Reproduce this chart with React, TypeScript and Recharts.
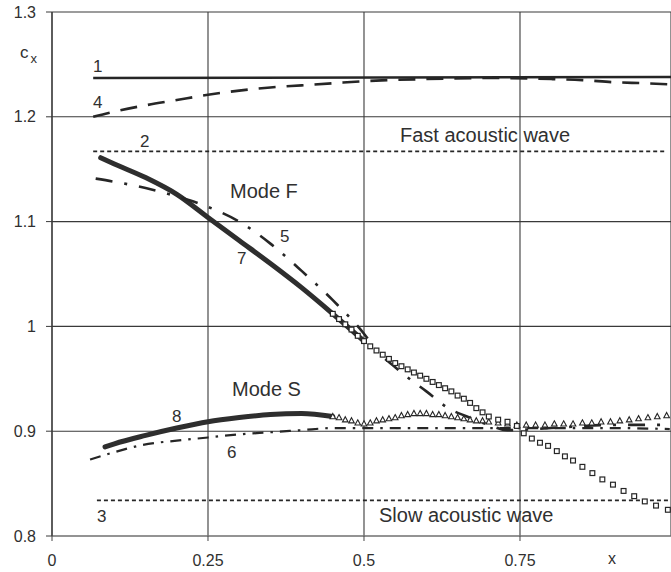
import React from 'react';
import { LineChart, Line, XAxis, YAxis, CartesianGrid, ReferenceDot } from 'recharts';

// ---------- axis ticks ----------
const xTicks = [0, 0.25, 0.5, 0.75];
const yTicks = [0.8, 0.9, 1, 1.1, 1.2, 1.3];

// ---------- series (x, c_x) ----------
const line1 = [
  { x: 0.066, y: 1.237 },
  { x: 0.992, y: 1.238 },
];

const line4 = [
  { x: 0.066, y: 1.2 },
  { x: 0.1, y: 1.205 },
  { x: 0.15, y: 1.211 },
  { x: 0.2, y: 1.216 },
  { x: 0.25, y: 1.221 },
  { x: 0.3, y: 1.225 },
  { x: 0.35, y: 1.228 },
  { x: 0.4, y: 1.23 },
  { x: 0.45, y: 1.232 },
  { x: 0.5, y: 1.234 },
  { x: 0.6, y: 1.236 },
  { x: 0.7, y: 1.237 },
  { x: 0.8, y: 1.236 },
  { x: 0.85, y: 1.235 },
  { x: 0.9, y: 1.233 },
  { x: 0.95, y: 1.232 },
  { x: 0.99, y: 1.231 },
];

const fastWave = [
  { x: 0.066, y: 1.167 },
  { x: 0.985, y: 1.167 },
];

const slowWave = [
  { x: 0.072, y: 0.834 },
  { x: 0.988, y: 0.834 },
];

const curve5 = [
  { x: 0.07, y: 1.141 },
  { x: 0.1, y: 1.138 },
  { x: 0.15, y: 1.132 },
  { x: 0.2, y: 1.124 },
  { x: 0.25, y: 1.114 },
  { x: 0.3, y: 1.1 },
  { x: 0.35, y: 1.079 },
  { x: 0.4, y: 1.053 },
  { x: 0.45, y: 1.025 },
  { x: 0.5, y: 0.993 },
  { x: 0.52, y: 0.977 },
  { x: 0.55, y: 0.961 },
  { x: 0.575, y: 0.949 },
  { x: 0.6, y: 0.938 },
  { x: 0.635, y: 0.922 },
  { x: 0.665, y: 0.914 },
  { x: 0.7, y: 0.906 },
  { x: 0.73, y: 0.901 },
  { x: 0.8, y: 0.903 },
  { x: 0.9, y: 0.906 },
  { x: 0.99, y: 0.906 },
];

const curve6 = [
  { x: 0.061, y: 0.873 },
  { x: 0.1, y: 0.88 },
  { x: 0.146, y: 0.887 },
  { x: 0.2, y: 0.891 },
  { x: 0.25, y: 0.894 },
  { x: 0.3, y: 0.897 },
  { x: 0.35, y: 0.899 },
  { x: 0.4, y: 0.901 },
  { x: 0.45, y: 0.903 },
  { x: 0.5, y: 0.903 },
  { x: 0.6, y: 0.903 },
  { x: 0.7, y: 0.903 },
  { x: 0.8, y: 0.903 },
  { x: 0.9, y: 0.903 },
  { x: 0.99, y: 0.902 },
];

// Mode F, numerical points (7): dense part drawn as a band, sparse part as squares
const curve7Band = [
  { x: 0.078, y: 1.161 },
  { x: 0.1, y: 1.155 },
  { x: 0.15, y: 1.142 },
  { x: 0.2, y: 1.126 },
  { x: 0.25, y: 1.104 },
  { x: 0.3, y: 1.082 },
  { x: 0.35, y: 1.06 },
  { x: 0.4, y: 1.037 },
  { x: 0.45, y: 1.012 },
  { x: 0.5, y: 0.986 },
];

const curve7Marks = [
  { x: 0.45, y: 1.012 }, { x: 0.46, y: 1.007 }, { x: 0.47, y: 1.002 },
  { x: 0.48, y: 0.997 }, { x: 0.49, y: 0.991 }, { x: 0.5, y: 0.986 },
  { x: 0.51, y: 0.981 }, { x: 0.52, y: 0.977 }, { x: 0.53, y: 0.973 },
  { x: 0.54, y: 0.969 }, { x: 0.55, y: 0.965 }, { x: 0.56, y: 0.962 },
  { x: 0.57, y: 0.959 }, { x: 0.58, y: 0.956 }, { x: 0.59, y: 0.953 },
  { x: 0.6, y: 0.95 }, { x: 0.61, y: 0.947 }, { x: 0.62, y: 0.944 },
  { x: 0.63, y: 0.941 }, { x: 0.64, y: 0.938 }, { x: 0.65, y: 0.934 },
  { x: 0.66, y: 0.931 }, { x: 0.67, y: 0.927 }, { x: 0.68, y: 0.922 },
  { x: 0.69, y: 0.918 }, { x: 0.7, y: 0.914 }, { x: 0.715, y: 0.911 },
  { x: 0.73, y: 0.909 }, { x: 0.745, y: 0.905 }, { x: 0.756, y: 0.898 },
  { x: 0.769, y: 0.893 }, { x: 0.782, y: 0.889 }, { x: 0.795, y: 0.886 },
  { x: 0.809, y: 0.881 }, { x: 0.822, y: 0.876 }, { x: 0.835, y: 0.872 },
  { x: 0.85, y: 0.866 }, { x: 0.866, y: 0.86 }, { x: 0.882, y: 0.854 },
  { x: 0.899, y: 0.849 }, { x: 0.916, y: 0.843 }, { x: 0.933, y: 0.838 },
  { x: 0.95, y: 0.833 }, { x: 0.968, y: 0.829 }, { x: 0.987, y: 0.825 },
];

// Mode S, numerical points (8)
const curve8Band = [
  { x: 0.085, y: 0.885 },
  { x: 0.1, y: 0.888 },
  { x: 0.15, y: 0.896 },
  { x: 0.2, y: 0.903 },
  { x: 0.25, y: 0.909 },
  { x: 0.3, y: 0.913 },
  { x: 0.35, y: 0.916 },
  { x: 0.4, y: 0.917 },
  { x: 0.45, y: 0.914 },
];

const curve8Marks = [
  { x: 0.45, y: 0.914 }, { x: 0.46, y: 0.913 }, { x: 0.47, y: 0.911 },
  { x: 0.48, y: 0.91 }, { x: 0.49, y: 0.908 }, { x: 0.5, y: 0.907 },
  { x: 0.51, y: 0.908 }, { x: 0.52, y: 0.91 }, { x: 0.53, y: 0.911 },
  { x: 0.54, y: 0.912 }, { x: 0.55, y: 0.913 }, { x: 0.56, y: 0.915 },
  { x: 0.57, y: 0.916 }, { x: 0.58, y: 0.917 }, { x: 0.59, y: 0.917 },
  { x: 0.6, y: 0.917 }, { x: 0.61, y: 0.916 }, { x: 0.62, y: 0.916 },
  { x: 0.63, y: 0.915 }, { x: 0.64, y: 0.914 }, { x: 0.65, y: 0.913 },
  { x: 0.66, y: 0.912 }, { x: 0.67, y: 0.911 }, { x: 0.68, y: 0.91 },
  { x: 0.69, y: 0.91 }, { x: 0.7, y: 0.909 }, { x: 0.715, y: 0.908 },
  { x: 0.73, y: 0.907 }, { x: 0.745, y: 0.906 }, { x: 0.76, y: 0.906 },
  { x: 0.775, y: 0.906 }, { x: 0.79, y: 0.906 }, { x: 0.805, y: 0.907 },
  { x: 0.82, y: 0.907 }, { x: 0.835, y: 0.907 }, { x: 0.85, y: 0.908 },
  { x: 0.865, y: 0.908 }, { x: 0.88, y: 0.909 }, { x: 0.895, y: 0.909 },
  { x: 0.91, y: 0.91 }, { x: 0.925, y: 0.911 }, { x: 0.94, y: 0.912 },
  { x: 0.955, y: 0.913 }, { x: 0.97, y: 0.914 }, { x: 0.985, y: 0.915 },
];

// ---------- text annotations (data coordinates, baseline-left) ----------
const annotations = [
  { x: 0.0657, y: 1.2427, text: '1', size: 17 },
  { x: 0.0657, y: 1.2084, text: '4', size: 17 },
  { x: 0.141, y: 1.1712, text: '2', size: 17 },
  { x: 0.5577, y: 1.176, text: 'Fast acoustic wave', size: 20 },
  { x: 0.2853, y: 1.1225, text: 'Mode F', size: 20 },
  { x: 0.3654, y: 1.0805, text: '5', size: 17 },
  { x: 0.2965, y: 1.0595, text: '7', size: 17 },
  { x: 0.2885, y: 0.9336, text: 'Mode S', size: 20 },
  { x: 0.1923, y: 0.9088, text: '8', size: 17 },
  { x: 0.2804, y: 0.8744, text: '6', size: 17 },
  { x: 0.0721, y: 0.8134, text: '3', size: 17 },
  { x: 0.524, y: 0.8134, text: 'Slow acoustic wave', size: 20 },
  { x: 0.891, y: 0.7733, text: 'x', size: 16 },
];

const FONT = '"Liberation Sans", Arial, Helvetica, sans-serif';
const INK = '#262626';
const TEXT = '#303030';

const SquareDot = (p: any) => {
  const { cx, cy, index } = p;
  if (cx == null || cy == null) return <g key={`sq${index}`} />;
  return (
    <rect
      key={`sq${index}`}
      x={cx - 2.4}
      y={cy - 2.4}
      width={4.8}
      height={4.8}
      fill="#ffffff"
      stroke={INK}
      strokeWidth={1.2}
    />
  );
};

const TriDot = (p: any) => {
  const { cx, cy, index } = p;
  if (cx == null || cy == null) return <g key={`tr${index}`} />;
  return (
    <path
      key={`tr${index}`}
      d={`M${cx},${cy - 3} L${cx + 2.8},${cy + 2.2} L${cx - 2.8},${cy + 2.2} Z`}
      fill="#ffffff"
      stroke={INK}
      strokeWidth={1.1}
    />
  );
};

const makeLabel = (text: string, size: number) => (props: any) => {
  const vb = props.viewBox || {};
  return (
    <text x={vb.x} y={vb.y} fontSize={size} fontFamily={FONT} fill={TEXT} textAnchor="start">
      {text}
    </text>
  );
};

const CxLabel = (props: any) => {
  const vb = props.viewBox || {};
  return (
    <text x={vb.x} y={vb.y} fontFamily={FONT} fill={TEXT} textAnchor="start">
      <tspan fontSize={17}>c</tspan>
      <tspan fontSize={13} dx={2} dy={5}>x</tspan>
    </text>
  );
};

export default function App() {
  return (
    <div style={{ width: 671, height: 572, background: '#ffffff' }}>
      <style>{'html,body{margin:0;padding:0;overflow:hidden;background:#fff}'}</style>
      <LineChart
        width={671}
        height={572}
        margin={{ top: 12, right: 0, left: 0, bottom: 0 }}
        style={{ fontFamily: FONT }}
      >
        <CartesianGrid stroke="#3a3a3a" strokeWidth={1.1} horizontal vertical />
        <XAxis
          type="number"
          dataKey="x"
          domain={[0, 0.992]}
          ticks={xTicks}
          allowDataOverflow
          height={36}
          tickSize={5}
          tickMargin={14}
          axisLine={{ stroke: '#8a8a8a', strokeWidth: 1.2 }}
          tickLine={{ stroke: '#444' }}
          tick={{ fontSize: 16, fill: TEXT, fontFamily: FONT }}
        />
        <YAxis
          type="number"
          dataKey="y"
          domain={[0.8, 1.3]}
          ticks={yTicks}
          allowDataOverflow
          width={52}
          tickSize={6}
          tickMargin={10}
          axisLine={{ stroke: '#3a3a3a', strokeWidth: 1.2 }}
          tickLine={{ stroke: '#3a3a3a' }}
          tick={{ fontSize: 16, fill: TEXT, fontFamily: FONT }}
        />

        <Line data={fastWave} dataKey="y" type="linear" stroke={INK} strokeWidth={1.6} strokeDasharray="4 3" dot={false} isAnimationActive={false} />
        <Line data={slowWave} dataKey="y" type="linear" stroke={INK} strokeWidth={1.6} strokeDasharray="4 3" dot={false} isAnimationActive={false} />
        <Line data={line1} dataKey="y" type="linear" stroke={INK} strokeWidth={2.5} dot={false} isAnimationActive={false} />
        <Line data={line4} dataKey="y" type="monotone" stroke={INK} strokeWidth={2.6} strokeDasharray="17 11" dot={false} isAnimationActive={false} />

        <Line data={curve6} dataKey="y" type="monotone" stroke={INK} strokeWidth={2.2} strokeDasharray="11 7 2.5 7" dot={false} isAnimationActive={false} />
        <Line data={curve8Band} dataKey="y" type="monotone" stroke="#2e2e2e" strokeWidth={5} strokeLinecap="round" dot={false} isAnimationActive={false} />
        <Line data={curve8Marks} dataKey="y" type="linear" stroke="none" dot={TriDot} isAnimationActive={false} />

        <Line data={curve7Band} dataKey="y" type="monotone" stroke="#2e2e2e" strokeWidth={5} strokeLinecap="round" dot={false} isAnimationActive={false} />
        <Line data={curve7Marks} dataKey="y" type="linear" stroke="none" dot={SquareDot} isAnimationActive={false} />
        <Line data={curve5} dataKey="y" type="monotone" stroke={INK} strokeWidth={2.6} strokeDasharray="17 12 3 12" dot={false} isAnimationActive={false} />

        {annotations.map((a, i) => (
          <ReferenceDot
            key={`ann${i}`}
            x={a.x}
            y={a.y}
            r={0}
            fill="none"
            stroke="none"
            ifOverflow="visible"
            label={makeLabel(a.text, a.size)}
          />
        ))}
        <ReferenceDot x={-0.0513} y={1.2561} r={0} fill="none" stroke="none" ifOverflow="visible" label={CxLabel} />
      </LineChart>
    </div>
  );
}
